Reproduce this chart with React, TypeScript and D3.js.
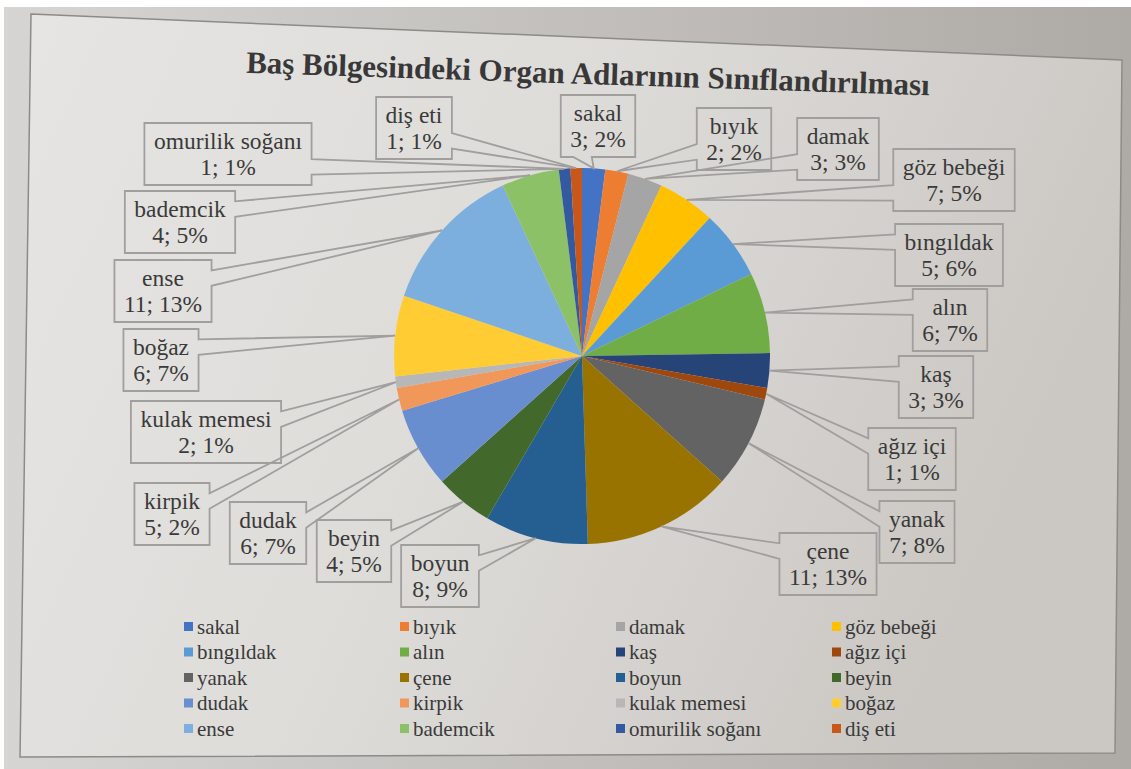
import { arc, pie, scaleLinear } from 'd3';

const W = 1131;
const H = 769;
const cx = 582;
const cy = 356;
const radius = 188;

const title = 'Baş Bölgesindeki Organ Adlarının Sınıflandırılması';

const names = [
	'sakal', 'bıyık', 'damak', 'göz bebeği', 'bıngıldak', 'alın', 'kaş', 'ağız içi',
	'yanak', 'çene', 'boyun', 'beyin', 'dudak', 'kirpik', 'kulak memesi', 'boğaz',
	'ense', 'bademcik', 'omurilik soğanı', 'diş eti',
];
// count as printed in each label
const counts = [3, 2, 3, 7, 5, 6, 3, 1, 7, 11, 8, 4, 6, 5, 2, 6, 11, 4, 1, 1];
// percentage as printed in each label (slices are sized by these)
const percents = [2, 2, 3, 5, 6, 7, 3, 1, 8, 13, 9, 5, 7, 2, 1, 7, 13, 5, 1, 1];
const colors = [
	'#4472C4', '#ED7D31', '#A5A5A5', '#FFC000', '#5B9BD5', '#70AD47', '#264478', '#9E480E',
	'#636363', '#997300', '#255E91', '#43682B', '#698ED0', '#F1975A', '#B7B7B7', '#FFCD33',
	'#7CAFDD', '#8CC168', '#335AA1', '#C8581A',
];

// callout box centres, offset from the pie centre (placed by hand, like Excel)
const labelOffsets: [number, number][] = [
	[16, -230], [152, -217], [256, -207], [372, -176], [367, -101], [368, -36],
	[354, 31], [330, 103], [335, 176], [246, 208], [-142, 220], [-228, 195],
	[-314, 177], [-410, 158], [-376, 76], [-421, 4], [-419, -65], [-402, -134],
	[-354, -202], [-168, -228],
];

const labelSize = 23.5;
const legendSize = 21;

let measureCtx: CanvasRenderingContext2D | null = null;
const textWidth = (s: string) => {
	if (!measureCtx) {
		measureCtx = document.createElement('canvas').getContext('2d');
	}
	if (!measureCtx) return s.length * 10;
	measureCtx.font = `${labelSize}px "Liberation Serif"`;
	return measureCtx.measureText(s).width;
};

// Office "wedgeRectCallout" outline: box plus a pointer towards (tx, ty)
const calloutPath = (x: number, y: number, w: number, h: number, tx: number, ty: number) => {
	const dx = tx - (x + w / 2);
	const dy = ty - (y + h / 2);
	const dq = (dx * h) / w;
	if (Math.abs(dy) > Math.abs(dq)) {
		const x1 = x + (w * (dx > 0 ? 7 : 2)) / 12;
		const x2 = x + (w * (dx > 0 ? 10 : 5)) / 12;
		if (dy < 0) {
			return `M${x},${y}L${x1},${y}L${tx},${ty}L${x2},${y}L${x + w},${y}L${x + w},${y + h}L${x},${y + h}Z`;
		}
		return `M${x},${y}L${x + w},${y}L${x + w},${y + h}L${x2},${y + h}L${tx},${ty}L${x1},${y + h}L${x},${y + h}Z`;
	}
	const y1 = y + (h * (dy > 0 ? 7 : 2)) / 12;
	const y2 = y + (h * (dy > 0 ? 10 : 5)) / 12;
	if (dx < 0) {
		return `M${x},${y}L${x + w},${y}L${x + w},${y + h}L${x},${y + h}L${x},${y2}L${tx},${ty}L${x},${y1}Z`;
	}
	return `M${x},${y}L${x + w},${y}L${x + w},${y1}L${tx},${ty}L${x + w},${y2}L${x + w},${y + h}L${x},${y + h}Z`;
};

const legendCol = scaleLinear().domain([0, 3]).range([184, 832]);
const legendRow = scaleLinear().domain([0, 4]).range([627, 729]);

const App = () => {
	const slices = pie<number>().sort(null).value(d => d)(percents);
	const arcGen = arc<any>().innerRadius(0).outerRadius(radius);

	return (
		<svg
			width={W}
			height={H}
			style={{ position: 'absolute', left: 0, top: 0 }}
			fontFamily='"Liberation Serif", "Times New Roman", serif'
		>
			<defs>
				<linearGradient id="outer" x1="0" x2="1" y1="0" y2="0">
					<stop offset="0" stopColor="#d6d5d3" />
					<stop offset="1" stopColor="#aeaaa6" />
				</linearGradient>
				<linearGradient id="inner" x1="0" x2="1" y1="0" y2="0.3">
					<stop offset="0" stopColor="#e6e5e3" />
					<stop offset="0.5" stopColor="#dedcd9" />
					<stop offset="1" stopColor="#cbc8c4" />
				</linearGradient>
			</defs>
			<rect width={W} height={H} fill="#ffffff" />
			<rect x={4} y={7} width={W - 4} height={H - 7} fill="url(#outer)" />
			<polygon
				points="31,14 1122,60 1115,753 20,757"
				fill="url(#inner)"
				stroke="#8d8b88"
				strokeWidth={1.5}
			/>

			<text
				x={588}
				y={84}
				textAnchor="middle"
				fontSize={31}
				fontWeight="bold"
				fill="#383838"
				transform="rotate(1.9 588 74)"
			>
				{title}
			</text>

			<g transform={`translate(${cx},${cy})`}>
				{slices.map((s, i) => (
					<path key={names[i]} d={arcGen(s) || ''} fill={colors[i]} />
				))}
			</g>

			<g>
				{slices.map((s, i) => {
					const mid = (s.startAngle + s.endAngle) / 2;
					const tx = cx + Math.sin(mid) * radius;
					const ty = cy - Math.cos(mid) * radius;
					const line2 = `${counts[i]}; ${percents[i]}%`;
					const w = Math.max(textWidth(names[i]), textWidth(line2)) + 19;
					const h = 62;
					const bx = cx + labelOffsets[i][0] - w / 2;
					const by = cy + labelOffsets[i][1] - h / 2;
					return (
						<g key={names[i]}>
							<path
								d={calloutPath(bx, by, w, h, tx, ty)}
								fill="none"
								stroke="#a09f9d"
								strokeWidth={1.8}
								strokeLinejoin="miter"
							/>
							<text
								x={bx + w / 2}
								y={by + h / 2 - 13}
								dy="0.33em"
								textAnchor="middle"
								fontSize={labelSize}
								fill="#3a3a3a"
							>
								{names[i]}
							</text>
							<text
								x={bx + w / 2}
								y={by + h / 2 + 13}
								dy="0.33em"
								textAnchor="middle"
								fontSize={labelSize}
								fill="#3a3a3a"
							>
								{line2}
							</text>
						</g>
					);
				})}
			</g>

			<g>
				{names.map((n, i) => {
					const x = legendCol(i % 4);
					const y = legendRow(Math.floor(i / 4));
					return (
						<g key={n}>
							<rect x={x} y={y - 5} width={9} height={9} fill={colors[i]} />
							<text x={x + 13} y={y} dy="0.32em" fontSize={legendSize} fill="#3a3a3a">
								{n}
							</text>
						</g>
					);
				})}
			</g>
		</svg>
	);
};

export default App;
